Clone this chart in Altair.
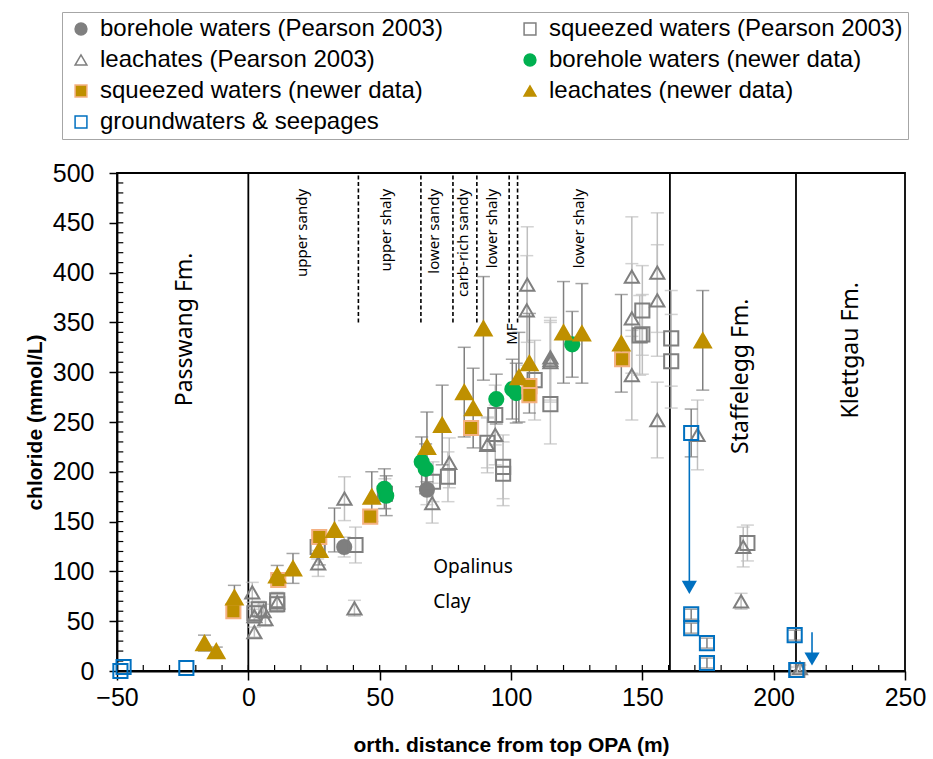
import altair as alt
import pandas as pd

# ---------------- data ----------------
BH_P = "borehole waters (Pearson 2003)"
SQ_P = "squeezed waters (Pearson 2003)"
LE_P = "leachates (Pearson 2003)"
BH_N = "borehole waters (newer data)"
SQ_N = "squeezed waters (newer data)"
LE_N = "leachates (newer data)"
GW = "groundwaters & seepages"
# legend fills column by column: left column first, then right column
legend_order = [BH_P, LE_P, SQ_N, GW, SQ_P, BH_N, LE_N]

bh_p_x = [36.5, 68.0]
bh_p_y = [124.5, 182.0]
bh_p_e = [10, 15]

sq_p_x = [2.3, 4.0, 11.0, 11.0, 26.4, 40.8, 52.0, 70.3, 76.0, 91.0, 94.0, 97.0, 97.0, 109.0, 115.0, 149.0, 150.0, 150.0, 161.0, 161.0, 190.0, 209.0]
sq_p_y = [58, 62, 71, 67, 124.5, 126.5, 178, 190, 195, 229, 257, 205, 198, 292, 268, 337, 338, 362, 334, 311, 128.5, 1]
sq_p_e = [8, 8, 8, 8, 12, 18, 15, 20, 25, 25, 30, 32, 32, 40, 40, 40, 40, 45, 48, 47, 18, 3]

le_p_x = [1.5, 2.3, 2.3, 5.8, 6.5, 11.0, 26.6, 36.6, 40.4, 70.0, 76.5, 91.0, 94.0, 106.2, 106.0, 115.0, 115.0, 115.0, 146.0, 146.0, 146.0, 155.7, 155.7, 155.7, 171.0, 188.4, 187.6, 210.0]
le_p_y = [79, 39, 55, 60, 52, 69, 108, 173, 63, 168.5, 209, 227, 237, 388, 362, 315, 310, 312, 396, 354, 297, 400, 372, 252, 237, 124.5, 70, 3]
le_p_e = [10, 5, 7, 7, 7, 8, 13, 22, 8, 20, 25, 28, 30, 58, 55, 40, 40, 40, 60, 55, 45, 60, 56, 38, 35, 20, 8, 3]

bh_n_x = [51.8, 52.5, 66.0, 67.5, 94.4, 100.5, 102.0, 123.3]
bh_n_y = [183, 176, 210, 203, 273, 283, 279, 328]
bh_n_e = [20, 20, 25, 25, 25, 30, 30, 33]

sq_n_x = [-5.7, 11.4, 27.0, 46.4, 84.8, 107.0, 107.0, 142.3]
sq_n_y = [60, 91.4, 134.5, 155, 244, 286, 277, 313]

le_n_x = [-16.7, -12.2, -5.3, 11.0, 17.0, 27.0, 32.8, 47.0, 68.0, 73.8, 82.2, 85.6, 89.5, 103.0, 107.0, 120.0, 127.0, 142.0, 173.0]
le_n_y = [28, 20, 74, 96, 103, 121.5, 141.6, 175, 225, 247, 280, 264, 344, 295, 309, 340, 339, 329, 332]
le_n_e = [8, 4, 12, 10, 15, 15, 22, 25, 35, 40, 45, 40, 52, 45, 50, 51, 50, 49, 50]

gw_x = [-48.7, -47.5, -23.6, 168.6, 168.6, 168.6, 174.6, 174.6, 208.0, 208.6]
gw_y = [0, 4, 3, 239, 57, 43, 28, 8, 36, 1]
gw_e = [0, 0, 0, 24, 5, 5, 5, 5, 5, 0]

arrow_x = [167.9, 214.6]
arrow_from = [231, 39]
arrow_to = [84, 12]

solid_bounds = [0, 160.5, 208.5]
dashed_bounds = [41.9, 65.7, 77.9, 87.0, 99.3, 102.5]
dashed_from, dashed_to = 350, 500

member_text = ["upper sandy", "upper shaly", "lower sandy", "carb-rich sandy", "lower shaly", "lower shaly", "MF"]
member_x = [20.5, 52.5, 70.5, 81.9, 92.8, 126.0, 100.4]
member_y = [484, 484, 484, 484, 484, 484, 349]

fm_text = ["Passwang Fm.", "Staffelegg Fm.", "Klettgau Fm."]
fm_x = [-24.0, 187.7, 229.5]
fm_y = [343, 296, 322]

opa_text = ["Opalinus", "Clay"]
opa_x = [70.4, 70.4]
opa_y = [104.5, 69]

x_ticks = [-50, 0, 50, 100, 150, 200, 250]
y_ticks = [0, 50, 100, 150, 200, 250, 300, 350, 400, 450, 500]
x_minor = list(range(-40, 250, 10))
y_minor = list(range(10, 500, 10))

# ---------------- tables ----------------
def frame(xs, ys, es, name):
    es = es if es is not None else [0] * len(xs)
    return pd.DataFrame({"x": xs, "y": ys, "e": es, "series": name})

pts = pd.concat([
    frame(bh_p_x, bh_p_y, bh_p_e, BH_P),
    frame(sq_p_x, sq_p_y, sq_p_e, SQ_P),
    frame(le_p_x, le_p_y, le_p_e, LE_P),
    frame(bh_n_x, bh_n_y, bh_n_e, BH_N),
    frame(sq_n_x, sq_n_y, None, SQ_N),
    frame(le_n_x, le_n_y, le_n_e, LE_N),
    frame(gw_x, gw_y, gw_e, GW),
], ignore_index=True)
pts["lo"] = pts["y"] - pts["e"]
pts["hi"] = pts["y"] + pts["e"]
newer = pts["series"].isin([BH_N, SQ_N, LE_N, GW])
err = pts[pts["e"] > 0]
err_old = err[~newer[err.index]]
err_new = err[newer[err.index]]
pts_main = pts[pts["series"] != LE_N]
pts_tri = pts[pts["series"] == LE_N]

FONT = "Liberation Sans, Arial, sans-serif"
CFONT = "Noto Sans, Open Sans, sans-serif"

xs = alt.Scale(domain=[-50, 250], nice=False, zero=False)
ys = alt.Scale(domain=[0, 500], nice=False, zero=False)
XT = "orth. distance from top OPA (m)"
YT = "chloride (mmol/L)"
common_axis = dict(grid=False, labelFlush=False, labelFont=FONT, labelFontSize=25,
                   labelColor="black", titleFont=FONT, titleFontSize=21,
                   titleFontWeight="bold", titleColor="black", domainColor="black",
                   domainWidth=1.8, tickColor="black", tickWidth=1.5)
x_axis = alt.Axis(values=x_ticks, tickSize=9, labelPadding=5, titlePadding=24, **common_axis)
y_axis = alt.Axis(values=y_ticks, tickSize=8, labelPadding=15, titlePadding=7, **common_axis)

def X(f="x"):
    return alt.X(f, type="quantitative", scale=xs, title=XT, axis=x_axis)

def Y(f="y"):
    return alt.Y(f, type="quantitative", scale=ys, title=YT, axis=y_axis)

xminor = alt.Chart(pd.DataFrame({"x": x_minor, "y": [0] * len(x_minor), "y2": [6] * len(x_minor)})).mark_rule(
    color="black", strokeWidth=1.2).encode(x=X(), y=Y(), y2="y2:Q")
yminor = alt.Chart(pd.DataFrame({"y": y_minor, "x": [-50] * len(y_minor), "x2": [-47.6] * len(y_minor)})).mark_rule(
    color="black", strokeWidth=1.2).encode(y=Y(), x=X(), x2="x2:Q")

solid = alt.Chart(pd.DataFrame({"x": solid_bounds, "y": [0] * 3, "y2": [500] * 3})).mark_rule(
    color="black", strokeWidth=1.8).encode(x=X(), y=Y(), y2="y2:Q")
dashed = alt.Chart(pd.DataFrame({"x": dashed_bounds, "y": [dashed_from] * len(dashed_bounds),
                                 "y2": [dashed_to] * len(dashed_bounds)})).mark_rule(
    color="black", strokeWidth=1.6, strokeDash=[4, 2.5]).encode(x=X(), y=Y(), y2="y2:Q")

def errlayers(df, color):
    bar = alt.Chart(df).mark_rule(color=color, strokeWidth=1.5).encode(x=X(), y=Y("lo"), y2="hi:Q")
    cap_lo = alt.Chart(df).mark_tick(color=color, thickness=1.5, size=13, orient="horizontal").encode(x=X(), y=Y("lo"))
    cap_hi = alt.Chart(df).mark_tick(color=color, thickness=1.5, size=13, orient="horizontal").encode(x=X(), y=Y("hi"))
    return [bar, cap_lo, cap_hi]

err_layers = errlayers(err_old, "#BFBFBF") + errlayers(err_new, "#7F7F7F")

arrows = pd.DataFrame({"x": arrow_x, "y": arrow_from, "y2": arrow_to})
arrow_line = alt.Chart(arrows).mark_rule(color="#0070C0", strokeWidth=1.6).encode(x=X(), y=Y(), y2="y2:Q")
arrow_head = alt.Chart(arrows).mark_point(shape="triangle-down", filled=True, color="#0070C0",
                                          size=230, opacity=1).encode(x=X(), y=Y("y2"))

style = {
    BH_P: ("circle", "#7F7F7F", "#7F7F7F"),
    SQ_P: ("square", "transparent", "#7F7F7F"),
    LE_P: ("triangle-up", "transparent", "#7F7F7F"),
    BH_N: ("circle", "#00B050", "#00B050"),
    SQ_N: ("square", "#BF9000", "#F4B183"),
    LE_N: ("triangle-up", "#BF9000", "#BF9000"),
    GW: ("square", "transparent", "#0070C0"),
}
shape_r = [style[s][0] for s in legend_order]
fill_r = [style[s][1] for s in legend_order]
stroke_r = [style[s][2] for s in legend_order]

legend = alt.Legend(title=None, orient="none", legendX=-55, legendY=-161, columns=2,
                    columnPadding=73, rowPadding=7, labelFontSize=24, labelFont=FONT,
                    labelColor="black", symbolSize=140, symbolStrokeWidth=1.5,
                    symbolOffset=2, labelOffset=7,
                    strokeColor="#A6A6A6", padding=5, labelLimit=600)

def point_layer(df, size):
    return alt.Chart(df).mark_point(strokeWidth=2, opacity=1, size=size).encode(
        x=X(), y=Y(),
        shape=alt.Shape("series:N", scale=alt.Scale(domain=legend_order, range=shape_r), legend=legend),
        fill=alt.Fill("series:N", scale=alt.Scale(domain=legend_order, range=fill_r), legend=legend),
        stroke=alt.Stroke("series:N", scale=alt.Scale(domain=legend_order, range=stroke_r), legend=legend),
    )

points_main = point_layer(pts_main, 200)
points_tri = point_layer(pts_tri, 270)

members = alt.Chart(pd.DataFrame({"x": member_x, "y": member_y, "t": member_text})).mark_text(
    angle=270, align="right", baseline="middle", fontSize=15, font=CFONT, color="black").encode(
    x=X(), y=Y(), text="t:N")
fms = alt.Chart(pd.DataFrame({"x": fm_x, "y": fm_y, "t": fm_text})).mark_text(
    angle=270, align="center", baseline="middle", fontSize=23, font=CFONT, color="black").encode(
    x=X(), y=Y(), text="t:N")
opa = alt.Chart(pd.DataFrame({"x": opa_x, "y": opa_y, "t": opa_text})).mark_text(
    align="left", baseline="middle", fontSize=19, font=CFONT, color="black").encode(
    x=X(), y=Y(), text="t:N")

chart = alt.layer(
    xminor, yminor, solid, dashed, *err_layers, arrow_line, arrow_head,
    points_main, points_tri, members, fms, opa,
).properties(
    width=788, height=498,
    autosize=alt.AutoSizeParams(type="none"),
    padding={"left": 117, "top": 173, "right": 28, "bottom": 88},
    background="white",
).configure_view(stroke="black", strokeWidth=1.8)

chart.save("out.html", embed_options={"renderer": "svg", "actions": False})
